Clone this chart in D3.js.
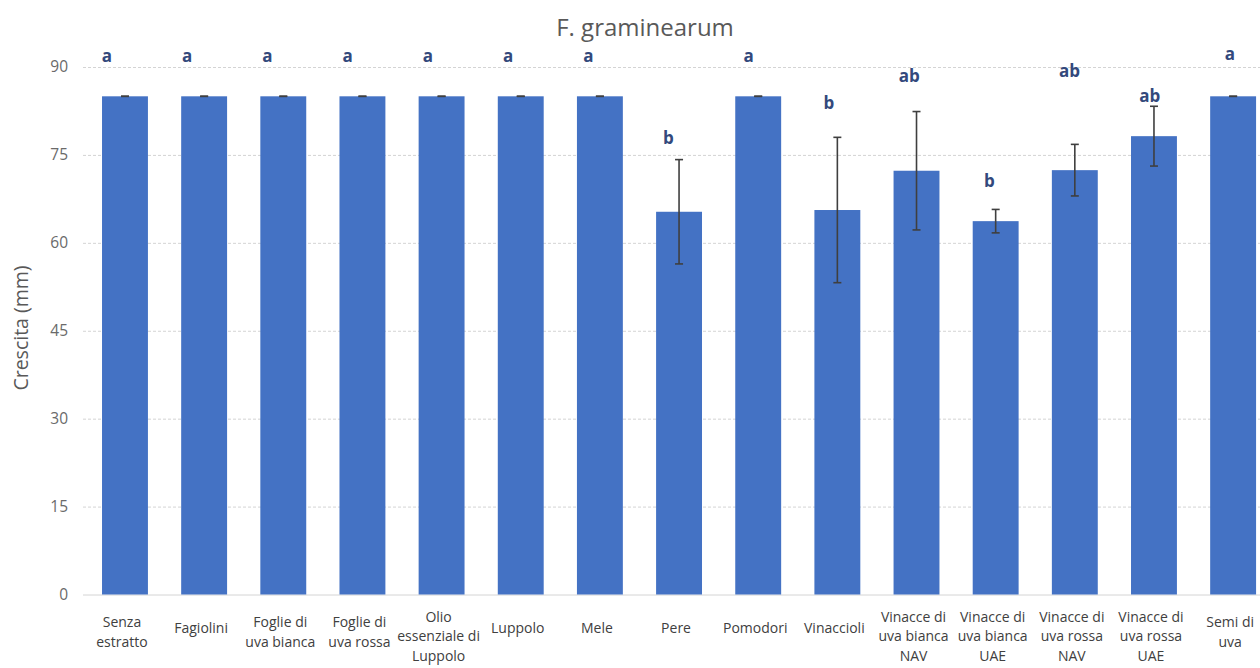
<!DOCTYPE html>
<html>
<head>
<meta charset="utf-8">
<script src="https://cdn.jsdelivr.net/npm/d3@7/dist/d3.min.js"></script>
<style>
  html, body { margin: 0; padding: 0; background: #ffffff; }
  svg { display: block; }
</style>
</head>
<body>
<svg id="chart" width="1260" height="668"></svg>
<script>
// Treatments (label line breaks marked with \n)
const categories = [
  "Senza\nestratto", "Fagiolini", "Foglie di\nuva bianca", "Foglie di\nuva rossa",
  "Olio\nessenziale di\nLuppolo", "Luppolo", "Mele", "Pere", "Pomodori", "Vinaccioli",
  "Vinacce di\nuva bianca\nNAV", "Vinacce di\nuva bianca\nUAE", "Vinacce di\nuva rossa\nNAV",
  "Vinacce di\nuva rossa\nUAE", "Semi di\nuva"
];
// Mean mycelial growth (mm)
const growth = [85, 85, 85, 85, 85, 85, 85, 65.3, 85, 65.6, 72.3, 63.7, 72.4, 78.2, 85];
// Standard deviation (mm)
const deviation = [0, 0, 0, 0, 0, 0, 0, 8.9, 0, 12.4, 10.1, 2.0, 4.4, 5.1, 0];
// Significance groups and the height (mm) at which each is written
const groups = ["a", "a", "a", "a", "a", "a", "a", "b", "a", "b", "ab", "b", "ab", "ab", "a"];
const groupAt = [91.8, 91.8, 91.8, 91.8, 91.8, 91.8, 91.8, 77.8, 91.8, 83.8, 88.5, 70.5, 89.3, 85.1, 92.2];
// Y axis ticks
const yTicks = [0, 15, 30, 45, 60, 75, 90];

const svg = d3.select("#chart");
const font = "'Open Sans', 'Noto Sans', sans-serif";
const gray = "#595959";

const x = d3.scaleBand()
  .domain(d3.range(categories.length))
  .range([85.4, 1272.7])
  .paddingInner(0.42)
  .paddingOuter(0.21);

const y = d3.scaleLinear().domain([0, 90]).range([594.5, 67]);

// Group letters sit on their own, slightly wider spacing
const xLetter = d3.scalePoint()
  .domain(d3.range(categories.length))
  .range([107, 1230]);

// Gridlines
const yAxis = d3.axisLeft(y).tickValues(yTicks).tickSize(-(1272 - 83)).tickPadding(15);
const gy = svg.append("g").attr("transform", "translate(83,0)").call(yAxis);
gy.select(".domain").remove();
gy.selectAll(".tick line")
  .attr("stroke", "#d4d4d4")
  .attr("stroke-width", 1)
  .attr("stroke-dasharray", d => d === 0 ? null : "3,2");
gy.selectAll(".tick text")
  .attr("fill", "#6a6a6a")
  .attr("font-family", font)
  .attr("font-size", 15.5);

// Bars
svg.append("g").selectAll("rect")
  .data(growth)
  .join("rect")
  .attr("x", (d, i) => x(i))
  .attr("width", x.bandwidth())
  .attr("y", d => y(d))
  .attr("height", d => y(0) - y(d))
  .attr("fill", "#4472C4");

// Error bars
const eb = svg.append("g").attr("stroke", "#3f3f3f").attr("stroke-width", 1.6);
growth.forEach((m, i) => {
  const cx = x(i) + x.bandwidth() / 2;
  const lo = m - deviation[i], hi = m + deviation[i];
  eb.append("line").attr("x1", cx).attr("x2", cx).attr("y1", y(lo)).attr("y2", y(hi));
  eb.append("line").attr("x1", cx - 4).attr("x2", cx + 4).attr("y1", y(hi)).attr("y2", y(hi));
  eb.append("line").attr("x1", cx - 4).attr("x2", cx + 4).attr("y1", y(lo)).attr("y2", y(lo));
});

// Significance letters
svg.append("g").selectAll("text")
  .data(groups)
  .join("text")
  .attr("x", (d, i) => xLetter(i))
  .attr("y", (d, i) => y(groupAt[i]))
  .attr("dy", "0.35em")
  .attr("text-anchor", "middle")
  .attr("font-family", font)
  .attr("font-weight", "bold")
  .attr("font-size", 17)
  .attr("fill", "#33497c")
  .text(d => d);

// Category labels
const cat = svg.append("g");
categories.forEach((c, i) => {
  const lines = c.split("\n");
  const cx = x(i) + x.bandwidth() / 2 - 3;
  const first = 628 - (lines.length - 1) * 5.5;
  const t = cat.append("text")
    .attr("text-anchor", "middle")
    .attr("font-family", font)
    .attr("font-size", 14)
    .attr("fill", "#404040");
  lines.forEach((ln, k) => {
    t.append("tspan").attr("x", cx).attr("y", first + k * 19.5).attr("dy", "0.35em").text(ln);
  });
});

// Axis title
svg.append("text")
  .attr("transform", "translate(21,328) rotate(-90)")
  .attr("text-anchor", "middle")
  .attr("dy", "0.35em")
  .attr("font-family", font)
  .attr("font-size", 19.5)
  .attr("fill", gray)
  .text("Crescita (mm)");

// Chart title
svg.append("text")
  .attr("x", 645)
  .attr("y", 36)
  .attr("text-anchor", "middle")
  .attr("font-family", font)
  .attr("font-size", 24)
  .attr("fill", gray)
  .text("F. graminearum");
</script>
</body>
</html>
